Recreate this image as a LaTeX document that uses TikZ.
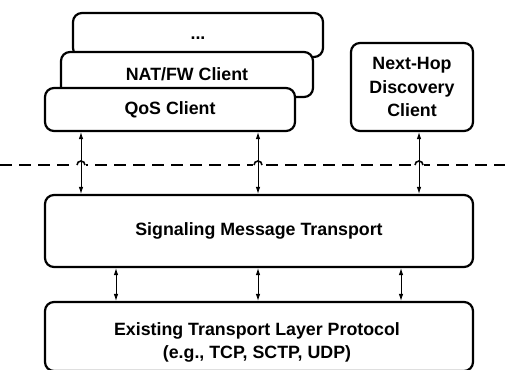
\documentclass[tikz,border=0pt]{standalone}
\usepackage{fontspec}
\setmainfont{Liberation Sans}
\usetikzlibrary{arrows.meta}
\begin{document}
\begin{tikzpicture}[x=1pt,y=-1pt,
  box/.style={draw,line width=2.2pt,rounded corners=9pt,fill=white,inner sep=0pt,
    align=center,font=\fontsize{17.8}{23.5}\selectfont\bfseries},
  conn/.style={{Latex[length=7pt,width=4.5pt]}-{Latex[length=7pt,width=4.5pt]},line width=0.9pt},
  sep/.style={line width=1.8pt,dash pattern=on 12pt off 7pt},
  hop/.style={line width=1.6pt}]
\useasboundingbox (0,0) rectangle (505,369);
\clip (0,0) rectangle (505,369);
% client boxes
\node[box,minimum width=250pt,minimum height=44pt] (dots) at (198,35) {\raisebox{-5pt}[0pt][0pt]{...}};
\node[box,minimum width=252pt,minimum height=45pt] (nat) at (187,74.5) {NAT/FW Client};
\node[box,minimum width=250pt,minimum height=43pt] (qos) at (170,109.5) {QoS Client};
\node[box,minimum width=122pt,minimum height=88pt] (nh) at (412,87) {Next-Hop\\Discovery\\Client};
% lower boxes
\node[box,minimum width=428pt,minimum height=72pt] (smt) at (259,231) {Signaling Message Transport};
\node[box,minimum width=428pt,minimum height=69pt] (etl) at (259,336.5) {};
\node[font=\fontsize{17.8}{23}\selectfont\bfseries,align=center] (etltext) at (257,342) {Existing Transport Layer Protocol\\(e.g., TCP, SCTP, UDP)};
% dashed separator
\coordinate (sl) at (0,165);
\coordinate (sr) at (505,165);
\draw[sep] (sl) -- (sr);
\coordinate (c1) at (81,165);
\coordinate (c2) at (258,165);
\coordinate (c3) at (419,165);
\foreach \c in {c1,c2,c3}{
  \fill[white] ([xshift=-5pt,yshift=-1.5pt]\c) rectangle ([xshift=5pt,yshift=1.5pt]\c);
  \draw[hop] ([xshift=-4pt]\c) arc[start angle=180,end angle=0,radius=4pt];
}
% upper connectors
\draw[conn] (qos.south -| c1) -- (smt.north -| c1);
\draw[conn] (qos.south -| c2) -- (smt.north -| c2);
\draw[conn] (nh.south -| c3) -- (smt.north -| c3);
% lower connectors
\coordinate (d1) at (116,0);
\coordinate (d2) at (258,0);
\coordinate (d3) at (401,0);
\draw[conn] (smt.south -| d1) -- (etl.north -| d1);
\draw[conn] (smt.south -| d2) -- (etl.north -| d2);
\draw[conn] (smt.south -| d3) -- (etl.north -| d3);
\end{tikzpicture}
\end{document}
